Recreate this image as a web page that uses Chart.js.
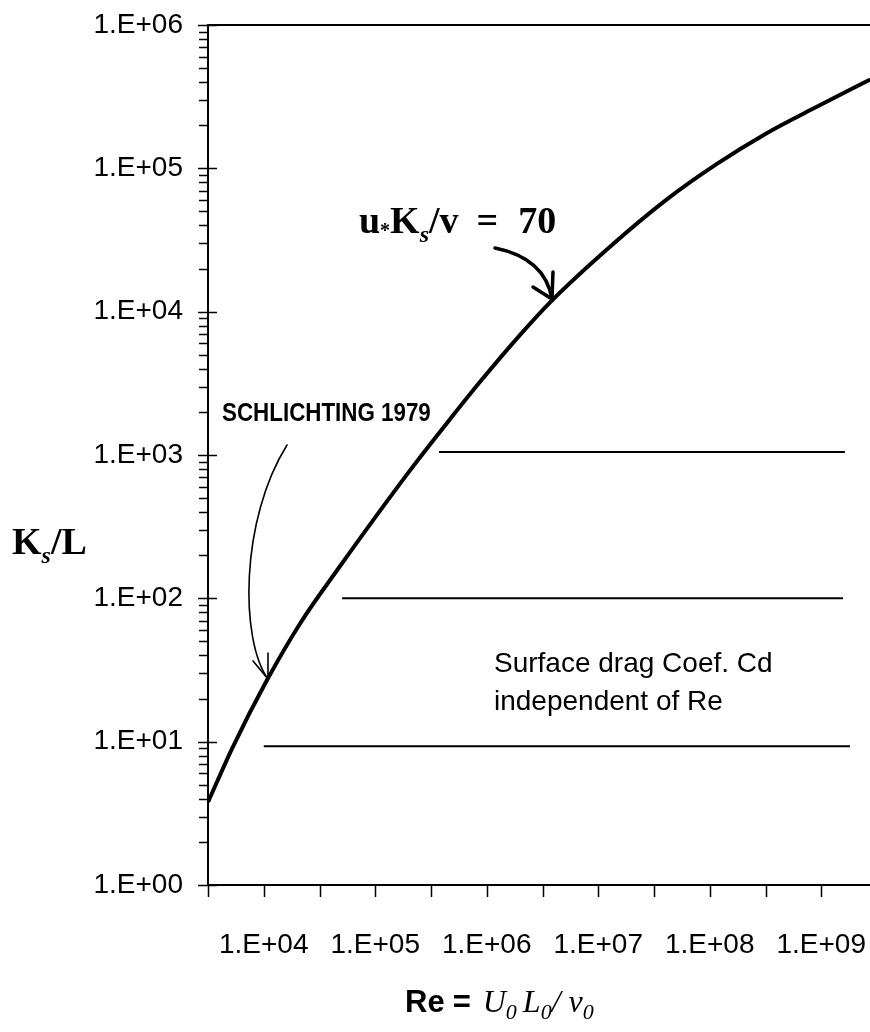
<!DOCTYPE html>
<html>
<head>
<meta charset="utf-8">
<script src="https://cdn.jsdelivr.net/npm/chart.js@4.4.0/dist/chart.umd.min.js"></script>
<style>
  html, body { margin: 0; padding: 0; background: #fff; }
  #wrap { width: 870px; height: 1032px; overflow: hidden; position: relative; }
  canvas { display: block; }
</style>
</head>
<body>
<div id="wrap"><canvas id="c" width="880" height="1032"></canvas></div>
<script>
// Reynolds number along the u*Ks/v = 70 curve (Schlichting 1979)
const reynolds  = [3170, 5250, 10700, 21400, 47900, 195000, 437000, 871000, 2.0e6, 3.85e6, 1.26e7, 4.07e7, 1.15e8, 3.24e8, 9.12e8, 2.75e9];
// Relative roughness Ks/L on that curve
const roughness = [3.8, 9.1, 26.9, 67.6, 166, 741, 1660, 3240, 6920, 12000, 28200, 60300, 107000, 176000, 269000, 417000];

// Fully rough regime: constant Ks/L levels, drag coefficient independent of Re
const cdLevels = [1050, 100, 9.3];
const cdFrom   = [3.73e5, 5.04e4, 1.0e4];
const cdTo     = [1.63e9, 1.57e9, 1.81e9];

// Axis labels
const xTickValues = [1e4, 1e5, 1e6, 1e7, 1e8, 1e9];
const xTickLabels = ['1.E+04', '1.E+05', '1.E+06', '1.E+07', '1.E+08', '1.E+09'];
const yTickValues = [1, 10, 100, 1e3, 1e4, 1e5, 1e6];
const yTickLabels = ['1.E+00', '1.E+01', '1.E+02', '1.E+03', '1.E+04', '1.E+05', '1.E+06'];

const X_MIN = Math.pow(10, 3.5), X_MAX = Math.pow(10, 9.5);
const Y_MIN = 1, Y_MAX = 1e6;

function labelFor(v, values, labels) {
  for (let i = 0; i < values.length; i++) {
    if (Math.abs(Math.log10(v) - Math.log10(values[i])) < 1e-6) return labels[i];
  }
  return '';
}
function isDecade(v) {
  const l = Math.log10(v);
  return Math.abs(l - Math.round(l)) < 1e-6;
}

// x ticks every half decade, y ticks at 1..9 x 10^n
function xTicks() {
  const t = [];
  for (let k = 0; k <= 12; k++) t.push({ value: Math.pow(10, 3.5 + 0.5 * k) });
  return t;
}
function yTicks() {
  const t = [];
  for (let e = 0; e < 6; e++) for (let m = 1; m <= 9; m++) t.push({ value: m * Math.pow(10, e) });
  t.push({ value: 1e6 });
  return t;
}

function drawRuns(ctx, x, y, parts) {
  let cx = x;
  for (const p of parts) {
    ctx.font = p.font;
    ctx.fillText(p.t, cx, y + (p.dy || 0));
    cx += ctx.measureText(p.t).width + (p.gap || 0);
  }
}

const SERIF = '"Liberation Serif", "Times New Roman", serif';
const SANS = '"Liberation Sans", Arial, sans-serif';

const framePlugin = {
  id: 'frame',
  afterDraw(chart) {
    const { ctx, chartArea: a, scales: { x, y } } = chart;
    const P = (lx, ly) => [x.getPixelForValue(Math.pow(10, lx)), y.getPixelForValue(Math.pow(10, ly))];
    ctx.save();
    ctx.strokeStyle = '#000';
    ctx.fillStyle = '#000';

    // plot frame
    ctx.lineWidth = 2;
    ctx.strokeRect(a.left, a.top, a.right - a.left, a.bottom - a.top);

    // y tick marks: decades cross the axis, minor ones outside
    ctx.lineWidth = 1.5;
    y.ticks.forEach(t => {
      const py = Math.round(y.getPixelForValue(t.value)) + 0.5;
      const major = isDecade(t.value);
      ctx.beginPath();
      ctx.moveTo(a.left - (major ? 10 : 9), py);
      ctx.lineTo(major ? a.left + 9 : a.left, py);
      ctx.stroke();
    });
    // x tick marks
    x.ticks.forEach(t => {
      const px = Math.round(x.getPixelForValue(t.value)) + 0.5;
      ctx.beginPath();
      ctx.moveTo(px, a.bottom);
      ctx.lineTo(px, a.bottom + 12);
      ctx.stroke();
    });

    // u*Ks/v = 70 label and arrow
    ctx.textBaseline = 'alphabetic';
    let p = P(4.854, 4.549);
    drawRuns(ctx, p[0], p[1], [
      { t: 'u', font: 'bold 38px ' + SERIF },
      { t: '*', font: 'bold 20px ' + SERIF, dy: 4 },
      { t: 'K', font: 'bold 38px ' + SERIF },
      { t: 's', font: 'italic bold 24px ' + SERIF, dy: 9 },
      { t: '/v', font: 'bold 38px ' + SERIF, gap: 18 },
      { t: '=', font: 'bold 38px ' + SERIF, gap: 20 },
      { t: '70', font: 'bold 38px ' + SERIF }
    ]);
    ctx.lineWidth = 3.5;
    ctx.lineCap = 'round';
    let a0 = P(6.074, 4.444), a1 = P(6.522, 4.374), a2 = P(6.585, 4.088);
    ctx.beginPath();
    ctx.moveTo(a0[0], a0[1]);
    ctx.quadraticCurveTo(a1[0], a1[1], a2[0], a2[1]);
    ctx.stroke();
    let h1 = P(6.415, 4.172), h2 = P(6.594, 4.277);
    ctx.beginPath();
    ctx.moveTo(h1[0], h1[1]); ctx.lineTo(a2[0], a2[1]); ctx.lineTo(h2[0], h2[1]);
    ctx.stroke();

    // SCHLICHTING 1979 label and arrow
    p = P(3.626, 3.237);
    ctx.save();
    ctx.translate(p[0], p[1]);
    ctx.scale(0.86, 1);
    ctx.font = 'bold 26px ' + SANS;
    ctx.fillText('SCHLICHTING 1979', 0, 0);
    ctx.restore();
    ctx.lineWidth = 1.6;
    const s0 = P(4.209, 3.070), s1 = P(3.787, 2.546), s2 = P(3.787, 1.709), s3 = P(4.038, 1.437);
    ctx.beginPath();
    ctx.moveTo(s0[0], s0[1]);
    ctx.bezierCurveTo(s1[0], s1[1], s2[0], s2[1], s3[0], s3[1]);
    ctx.stroke();
    h1 = P(3.904, 1.563); h2 = P(4.038, 1.619);
    ctx.beginPath();
    ctx.moveTo(h1[0], h1[1]); ctx.lineTo(s3[0], s3[1]); ctx.lineTo(h2[0], h2[1]);
    ctx.stroke();

    // regime note
    ctx.font = '28px ' + SANS;
    p = P(6.065, 1.486);
    ctx.fillText('Surface drag Coef. Cd', p[0], p[1]);
    p = P(6.065, 1.221);
    ctx.fillText('independent of Re', p[0], p[1]);

    // y axis title
    drawRuns(ctx, 12, 554, [
      { t: 'K', font: 'bold 38px ' + SERIF },
      { t: 's', font: 'italic bold 24px ' + SERIF, dy: 9 },
      { t: '/L', font: 'bold 38px ' + SERIF }
    ]);
    // x axis title
    drawRuns(ctx, 405, 1012, [
      { t: 'Re', font: 'bold 31px ' + SANS, gap: 8 },
      { t: '=', font: 'bold 31px ' + SANS, gap: 12 },
      { t: 'U', font: 'italic 32px ' + SERIF },
      { t: '0', font: 'italic 22px ' + SERIF, dy: 7, gap: 6 },
      { t: 'L', font: 'italic 32px ' + SERIF },
      { t: '0', font: 'italic 22px ' + SERIF, dy: 7 },
      { t: '/', font: 'italic 32px ' + SERIF, gap: 8 },
      { t: 'v', font: 'italic 32px ' + SERIF },
      { t: '0', font: 'italic 22px ' + SERIF, dy: 7 }
    ]);
    ctx.restore();
  }
};

const datasets = [{
  data: reynolds.map((r, i) => ({ x: r, y: roughness[i] })),
  borderColor: '#000',
  borderWidth: 4,
  pointRadius: 0,
  cubicInterpolationMode: 'monotone',
  fill: false
}].concat(cdLevels.map((lv, i) => ({
  data: [{ x: cdFrom[i], y: lv }, { x: cdTo[i], y: lv }],
  borderColor: '#000',
  borderWidth: 2,
  pointRadius: 0,
  fill: false
})));

new Chart(document.getElementById('c'), {
  type: 'line',
  data: { datasets },
  options: {
    responsive: false,
    animation: false,
    devicePixelRatio: 1,
    layout: { padding: { left: 0, top: 25, right: 3, bottom: 0 } },
    plugins: { legend: { display: false }, tooltip: { enabled: false } },
    scales: {
      x: {
        type: 'logarithmic',
        min: X_MIN, max: X_MAX,
        grid: { display: false, drawTicks: false },
        border: { display: false },
        afterBuildTicks: s => { s.ticks = xTicks(); },
        afterFit: s => { s.height = 147; s.paddingLeft = 0; s.paddingRight = 0; },
        ticks: {
          autoSkip: false, maxRotation: 0, minRotation: 0, padding: 43,
          color: '#000',
          font: { family: SANS, size: 28 },
          callback: v => labelFor(v, xTickValues, xTickLabels)
        }
      },
      y: {
        type: 'logarithmic',
        min: Y_MIN, max: Y_MAX,
        grid: { display: false, drawTicks: false },
        border: { display: false },
        afterBuildTicks: s => { s.ticks = yTicks(); },
        afterFit: s => { s.width = 208; s.paddingTop = 0; s.paddingBottom = 0; },
        ticks: {
          autoSkip: false, padding: 25,
          color: '#000',
          font: { family: SANS, size: 28 },
          callback: v => labelFor(v, yTickValues, yTickLabels)
        }
      }
    }
  },
  plugins: [framePlugin]
});
</script>
</body>
</html>
